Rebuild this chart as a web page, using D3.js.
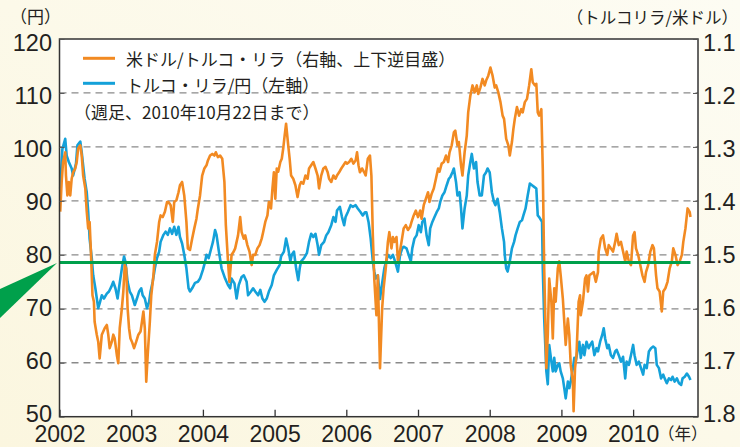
<!DOCTYPE html>
<html><head><meta charset="utf-8">
<script src="https://cdn.jsdelivr.net/npm/d3@7"></script>
<style>
html,body{margin:0;padding:0;background:#fbf8e8;}
svg{display:block;}
</style></head><body>
<svg id="chart" width="740" height="447"></svg>
<script>
// ---------- data ----------
const yearTicks = [2002, 2003, 2004, 2005, 2006, 2007, 2008, 2009, 2010];
const leftTicks = [50, 60, 70, 80, 90, 100, 110, 120];
const rightTicks = [1.1, 1.2, 1.3, 1.4, 1.5, 1.6, 1.7, 1.8];
const refLevel = 78.6; // green horizontal line (left axis, yen)

const leftUnit = "（円）";
const rightUnit = "（トルコリラ/米ドル）";
const yearUnit = "（年）";
const legendLabels = ["米ドル/トルコ・リラ（右軸、上下逆目盛）", "トルコ・リラ/円（左軸）"];
const noteLabel = "（週足、2010年10月22日まで）";

// USD/TRY (lira per dollar, right axis, inverted)
const usdTry = [[2002.01,1.420],[2002.03,1.365],[2002.05,1.328],[2002.08,1.310],[2002.09,1.353],[2002.11,1.390],[2002.13,1.365],[2002.15,1.390],[2002.17,1.359],[2002.19,1.347],[2002.22,1.340],[2002.24,1.328],[2002.26,1.303],[2002.29,1.297],[2002.31,1.316],[2002.33,1.353],[2002.36,1.377],[2002.38,1.420],[2002.40,1.451],[2002.42,1.439],[2002.44,1.500],[2002.46,1.575],[2002.48,1.587],[2002.49,1.624],[2002.52,1.648],[2002.54,1.661],[2002.56,1.692],[2002.59,1.648],[2002.61,1.642],[2002.63,1.636],[2002.66,1.630],[2002.68,1.648],[2002.70,1.673],[2002.73,1.661],[2002.75,1.648],[2002.77,1.655],[2002.80,1.686],[2002.82,1.701],[2002.84,1.636],[2002.87,1.599],[2002.89,1.568],[2002.91,1.519],[2002.93,1.525],[2002.95,1.599],[2002.97,1.636],[2002.99,1.655],[2003.01,1.661],[2003.04,1.673],[2003.07,1.661],[2003.10,1.648],[2003.13,1.642],[2003.15,1.624],[2003.17,1.605],[2003.19,1.636],[2003.21,1.735],[2003.23,1.686],[2003.26,1.624],[2003.28,1.575],[2003.31,1.538],[2003.33,1.500],[2003.36,1.476],[2003.39,1.439],[2003.41,1.427],[2003.44,1.430],[2003.47,1.420],[2003.50,1.402],[2003.52,1.402],[2003.55,1.408],[2003.58,1.439],[2003.60,1.402],[2003.63,1.399],[2003.66,1.384],[2003.68,1.371],[2003.71,1.365],[2003.74,1.390],[2003.77,1.439],[2003.79,1.488],[2003.82,1.491],[2003.85,1.470],[2003.88,1.451],[2003.91,1.433],[2003.93,1.414],[2003.96,1.390],[2003.99,1.353],[2004.02,1.340],[2004.05,1.334],[2004.07,1.325],[2004.10,1.316],[2004.13,1.313],[2004.16,1.316],[2004.18,1.310],[2004.21,1.319],[2004.24,1.316],[2004.27,1.322],[2004.30,1.365],[2004.32,1.445],[2004.35,1.512],[2004.37,1.550],[2004.40,1.500],[2004.43,1.494],[2004.45,1.488],[2004.49,1.464],[2004.52,1.430],[2004.54,1.458],[2004.57,1.470],[2004.59,1.464],[2004.62,1.482],[2004.65,1.494],[2004.68,1.519],[2004.70,1.500],[2004.73,1.500],[2004.76,1.488],[2004.79,1.482],[2004.82,1.470],[2004.84,1.458],[2004.87,1.439],[2004.90,1.427],[2004.92,1.402],[2004.95,1.414],[2004.97,1.377],[2004.99,1.347],[2005.01,1.396],[2005.03,1.340],[2005.05,1.346],[2005.08,1.328],[2005.10,1.322],[2005.12,1.303],[2005.14,1.279],[2005.16,1.257],[2005.19,1.297],[2005.21,1.322],[2005.23,1.353],[2005.26,1.359],[2005.29,1.371],[2005.32,1.393],[2005.35,1.371],[2005.37,1.365],[2005.40,1.368],[2005.43,1.353],[2005.46,1.359],[2005.48,1.340],[2005.51,1.334],[2005.54,1.328],[2005.57,1.340],[2005.60,1.353],[2005.62,1.377],[2005.65,1.353],[2005.68,1.340],[2005.71,1.337],[2005.74,1.347],[2005.76,1.359],[2005.79,1.365],[2005.82,1.353],[2005.85,1.359],[2005.87,1.353],[2005.90,1.347],[2005.93,1.340],[2005.96,1.334],[2005.99,1.328],[2006.01,1.331],[2006.04,1.328],[2006.07,1.322],[2006.10,1.331],[2006.13,1.325],[2006.15,1.310],[2006.17,1.334],[2006.19,1.347],[2006.22,1.340],[2006.25,1.347],[2006.27,1.353],[2006.30,1.322],[2006.33,1.316],[2006.35,1.353],[2006.37,1.464],[2006.39,1.544],[2006.42,1.612],[2006.44,1.538],[2006.47,1.710],[2006.50,1.599],[2006.52,1.562],[2006.55,1.525],[2006.58,1.476],[2006.60,1.458],[2006.63,1.488],[2006.65,1.467],[2006.67,1.476],[2006.70,1.467],[2006.72,1.512],[2006.74,1.500],[2006.77,1.476],[2006.80,1.451],[2006.83,1.445],[2006.86,1.454],[2006.89,1.448],[2006.91,1.439],[2006.94,1.427],[2006.97,1.418],[2007.00,1.430],[2007.03,1.418],[2007.05,1.433],[2007.08,1.408],[2007.11,1.396],[2007.14,1.384],[2007.16,1.402],[2007.19,1.387],[2007.22,1.377],[2007.25,1.359],[2007.28,1.340],[2007.30,1.346],[2007.33,1.331],[2007.36,1.328],[2007.39,1.316],[2007.42,1.328],[2007.44,1.310],[2007.47,1.297],[2007.50,1.273],[2007.52,1.270],[2007.55,1.297],[2007.57,1.291],[2007.60,1.334],[2007.62,1.353],[2007.65,1.310],[2007.68,1.279],[2007.70,1.236],[2007.73,1.205],[2007.76,1.186],[2007.79,1.199],[2007.82,1.186],[2007.84,1.202],[2007.87,1.190],[2007.90,1.174],[2007.93,1.186],[2007.95,1.177],[2007.98,1.168],[2008.01,1.153],[2008.04,1.168],[2008.07,1.190],[2008.09,1.186],[2008.12,1.199],[2008.15,1.217],[2008.18,1.242],[2008.20,1.248],[2008.23,1.285],[2008.26,1.297],[2008.28,1.316],[2008.31,1.291],[2008.33,1.267],[2008.35,1.248],[2008.38,1.226],[2008.41,1.242],[2008.44,1.230],[2008.46,1.236],[2008.49,1.217],[2008.52,1.211],[2008.55,1.186],[2008.58,1.156],[2008.60,1.180],[2008.63,1.186],[2008.65,1.183],[2008.67,1.236],[2008.69,1.242],[2008.72,1.230],[2008.74,1.340],[2008.76,1.525],[2008.79,1.710],[2008.81,1.648],[2008.83,1.544],[2008.86,1.587],[2008.88,1.655],[2008.90,1.562],[2008.92,1.587],[2008.95,1.525],[2008.97,1.512],[2008.99,1.538],[2009.02,1.581],[2009.04,1.624],[2009.06,1.667],[2009.09,1.618],[2009.11,1.648],[2009.13,1.704],[2009.16,1.735],[2009.17,1.790],[2009.19,1.710],[2009.21,1.686],[2009.24,1.587],[2009.26,1.575],[2009.27,1.612],[2009.30,1.587],[2009.33,1.544],[2009.35,1.538],[2009.37,1.568],[2009.39,1.538],[2009.42,1.535],[2009.45,1.532],[2009.48,1.550],[2009.51,1.532],[2009.52,1.494],[2009.55,1.470],[2009.58,1.464],[2009.61,1.488],[2009.64,1.500],[2009.66,1.482],[2009.69,1.488],[2009.72,1.494],[2009.75,1.476],[2009.77,1.461],[2009.80,1.482],[2009.83,1.476],[2009.86,1.494],[2009.89,1.512],[2009.91,1.494],[2009.94,1.512],[2009.97,1.519],[2010.00,1.464],[2010.02,1.458],[2010.04,1.488],[2010.07,1.500],[2010.10,1.519],[2010.13,1.538],[2010.16,1.550],[2010.18,1.532],[2010.21,1.519],[2010.24,1.494],[2010.27,1.482],[2010.29,1.488],[2010.32,1.538],[2010.34,1.562],[2010.37,1.568],[2010.40,1.605],[2010.42,1.568],[2010.45,1.562],[2010.48,1.550],[2010.51,1.525],[2010.54,1.512],[2010.56,1.488],[2010.59,1.500],[2010.62,1.519],[2010.65,1.512],[2010.68,1.500],[2010.70,1.476],[2010.73,1.451],[2010.76,1.414],[2010.79,1.421],[2010.80,1.430]];

// TRY/JPY (yen per lira, left axis)
const tryJpy = [[2002.01,92.3],[2002.04,99.6],[2002.08,101.5],[2002.10,98.4],[2002.13,97.2],[2002.17,96.0],[2002.19,94.7],[2002.23,96.9],[2002.25,100.3],[2002.29,101.0],[2002.31,99.0],[2002.35,94.1],[2002.38,91.6],[2002.40,88.0],[2002.42,83.0],[2002.45,79.4],[2002.47,76.2],[2002.50,73.8],[2002.54,70.1],[2002.56,71.0],[2002.59,72.5],[2002.62,71.9],[2002.66,72.8],[2002.69,73.2],[2002.72,74.0],[2002.75,75.0],[2002.78,73.8],[2002.81,71.9],[2002.84,74.8],[2002.87,77.5],[2002.90,79.7],[2002.92,78.7],[2002.95,75.0],[2002.98,73.2],[2003.01,72.5],[2003.05,70.7],[2003.08,71.9],[2003.11,73.2],[2003.14,73.8],[2003.16,72.5],[2003.19,71.9],[2003.22,70.1],[2003.25,71.3],[2003.27,73.2],[2003.30,75.0],[2003.33,77.5],[2003.36,79.4],[2003.39,80.6],[2003.41,82.4],[2003.45,83.7],[2003.48,84.3],[2003.51,83.7],[2003.54,84.9],[2003.57,83.9],[2003.60,85.2],[2003.63,83.7],[2003.66,85.2],[2003.68,83.3],[2003.71,82.1],[2003.74,80.0],[2003.77,77.5],[2003.80,73.8],[2003.82,73.2],[2003.85,73.8],[2003.89,74.8],[2003.93,75.0],[2003.96,75.6],[2004.00,77.2],[2004.03,78.7],[2004.05,80.0],[2004.08,79.4],[2004.11,80.9],[2004.14,82.4],[2004.17,84.6],[2004.19,83.7],[2004.22,80.9],[2004.26,77.5],[2004.31,75.6],[2004.35,74.4],[2004.38,73.8],[2004.40,75.6],[2004.44,74.7],[2004.47,71.9],[2004.50,74.4],[2004.54,75.9],[2004.57,76.2],[2004.61,75.0],[2004.63,72.5],[2004.67,73.2],[2004.70,73.8],[2004.73,73.2],[2004.77,72.5],[2004.80,73.5],[2004.83,71.9],[2004.86,71.3],[2004.89,71.9],[2004.92,73.2],[2004.96,74.4],[2004.99,76.2],[2005.03,77.2],[2005.07,78.1],[2005.09,79.7],[2005.13,80.6],[2005.16,83.0],[2005.19,81.2],[2005.22,78.8],[2005.24,80.0],[2005.27,80.6],[2005.30,77.5],[2005.33,75.3],[2005.35,77.5],[2005.37,78.8],[2005.41,79.4],[2005.45,80.3],[2005.48,82.4],[2005.51,83.9],[2005.54,83.3],[2005.57,83.9],[2005.60,81.8],[2005.62,80.0],[2005.65,81.8],[2005.69,82.4],[2005.72,83.6],[2005.75,84.2],[2005.79,85.5],[2005.82,87.0],[2005.85,86.1],[2005.87,88.2],[2005.91,88.9],[2005.94,87.0],[2005.97,85.5],[2005.99,87.0],[2006.02,87.9],[2006.06,89.2],[2006.09,88.9],[2006.13,89.2],[2006.16,88.6],[2006.20,87.9],[2006.23,87.3],[2006.26,87.9],[2006.28,87.9],[2006.31,86.1],[2006.34,83.0],[2006.37,78.8],[2006.39,76.9],[2006.41,75.6],[2006.44,76.2],[2006.47,71.8],[2006.49,73.8],[2006.53,77.5],[2006.58,80.0],[2006.62,79.4],[2006.65,80.0],[2006.68,78.8],[2006.72,76.9],[2006.75,80.0],[2006.78,81.2],[2006.80,81.5],[2006.84,81.2],[2006.87,80.0],[2006.90,78.8],[2006.92,81.2],[2006.95,83.0],[2006.98,83.6],[2007.01,85.5],[2007.04,84.2],[2007.06,86.1],[2007.09,86.7],[2007.12,83.6],[2007.15,81.8],[2007.17,84.9],[2007.20,86.1],[2007.23,87.0],[2007.26,87.9],[2007.29,88.6],[2007.31,89.8],[2007.34,91.0],[2007.37,91.6],[2007.40,92.9],[2007.43,94.1],[2007.45,94.4],[2007.48,95.3],[2007.50,96.0],[2007.53,93.5],[2007.55,91.0],[2007.58,91.6],[2007.60,88.6],[2007.62,84.9],[2007.65,88.6],[2007.68,91.0],[2007.70,94.7],[2007.73,97.2],[2007.75,98.7],[2007.78,96.0],[2007.81,97.2],[2007.83,93.5],[2007.86,91.0],[2007.89,91.0],[2007.92,94.7],[2007.95,95.3],[2007.97,96.0],[2008.00,95.3],[2008.03,91.6],[2008.06,89.8],[2008.08,89.2],[2008.11,90.4],[2008.14,87.9],[2008.17,84.9],[2008.20,82.4],[2008.21,80.0],[2008.23,77.5],[2008.25,76.9],[2008.28,78.8],[2008.31,81.2],[2008.34,82.4],[2008.36,83.6],[2008.39,84.9],[2008.42,86.1],[2008.45,86.4],[2008.47,87.3],[2008.50,88.6],[2008.53,91.0],[2008.56,93.2],[2008.59,92.9],[2008.62,92.6],[2008.65,92.3],[2008.67,87.3],[2008.69,87.0],[2008.73,86.1],[2008.74,77.5],[2008.76,68.2],[2008.79,58.4],[2008.81,56.0],[2008.83,63.3],[2008.86,60.2],[2008.88,58.4],[2008.90,60.9],[2008.92,58.4],[2008.95,59.6],[2008.97,59.9],[2008.99,58.4],[2009.02,57.1],[2009.04,55.3],[2009.06,53.4],[2009.09,56.5],[2009.11,55.3],[2009.13,56.5],[2009.16,59.0],[2009.18,60.9],[2009.20,60.2],[2009.23,62.7],[2009.25,63.9],[2009.27,60.9],[2009.30,63.3],[2009.32,61.4],[2009.35,63.9],[2009.38,62.7],[2009.40,63.3],[2009.43,63.9],[2009.46,61.4],[2009.49,62.7],[2009.51,62.1],[2009.54,63.9],[2009.57,65.2],[2009.59,66.4],[2009.61,64.5],[2009.64,62.7],[2009.66,63.3],[2009.69,61.4],[2009.72,60.9],[2009.75,62.1],[2009.77,62.4],[2009.80,61.4],[2009.83,60.2],[2009.86,61.1],[2009.89,57.1],[2009.91,60.2],[2009.94,59.6],[2009.97,61.4],[2010.00,63.3],[2010.02,61.4],[2010.05,59.6],[2010.08,60.2],[2010.11,59.0],[2010.14,57.8],[2010.16,59.6],[2010.19,59.0],[2010.22,62.1],[2010.25,62.7],[2010.28,63.0],[2010.31,62.7],[2010.33,59.6],[2010.36,59.0],[2010.39,57.1],[2010.42,57.8],[2010.44,57.1],[2010.47,56.2],[2010.50,57.1],[2010.53,56.8],[2010.55,57.4],[2010.58,56.5],[2010.61,57.1],[2010.64,56.2],[2010.67,55.9],[2010.69,57.1],[2010.72,57.4],[2010.75,58.0],[2010.78,57.4],[2010.80,56.8]];

// ---------- drawing ----------
const W = 740, H = 447;
const P = {left: 59.5, right: 698, top: 39, bottom: 416.7};
const ORANGE = "#f28a22", BLUE = "#14a1d9", GREEN = "#00a04b", INK = "#231f20";
const NUM_FONT = "'Liberation Sans', Arial, Helvetica, sans-serif";
const JP_FONT = "'Noto Sans CJK JP', 'Noto Sans', sans-serif";

const svg = d3.select("#chart");

const defs = svg.append("defs");
const grad = defs.append("linearGradient").attr("id", "bg").attr("x1", "0").attr("y1", "1").attr("x2", "1").attr("y2", "0");
grad.append("stop").attr("offset", "0").attr("stop-color", "#fbf6df");
grad.append("stop").attr("offset", "1").attr("stop-color", "#fdfcf3");
svg.append("rect").attr("width", W).attr("height", H).attr("fill", "url(#bg)");

const x = d3.scaleLinear().domain([2002, 2010.905]).range([P.left, P.right]);
const yL = d3.scaleLinear().domain([50, 120]).range([P.bottom, P.top]);
const yR = d3.scaleLinear().domain([1.1, 1.8]).range([P.top, P.bottom]);

// plot area
svg.append("rect").attr("x", P.left).attr("y", P.top)
  .attr("width", P.right - P.left).attr("height", P.bottom - P.top).attr("fill", "#ffffff");

// dashed grid
svg.append("g").selectAll("line").data(leftTicks.filter(d => d > 50 && d < 120)).join("line")
  .attr("x1", P.left).attr("x2", P.right)
  .attr("y1", d => yL(d)).attr("y2", d => yL(d))
  .attr("stroke", "#8a8a8a").attr("stroke-width", 1.3).attr("stroke-dasharray", "7,5");

// series
const lineBlue = d3.line().x(d => x(d[0])).y(d => yL(d[1]));
const lineOrange = d3.line().x(d => x(d[0])).y(d => yR(d[1]));
svg.append("path").datum(tryJpy).attr("d", lineBlue).attr("fill", "none")
  .attr("stroke", BLUE).attr("stroke-width", 2.6).attr("stroke-linejoin", "round");
svg.append("path").datum(usdTry).attr("d", lineOrange).attr("fill", "none")
  .attr("stroke", ORANGE).attr("stroke-width", 2.6).attr("stroke-linejoin", "round");

// reference level
const lastDate = tryJpy[tryJpy.length - 1][0];
svg.append("line").attr("x1", x(2002)).attr("x2", x(lastDate))
  .attr("y1", yL(refLevel)).attr("y2", yL(refLevel))
  .attr("stroke", GREEN).attr("stroke-width", 3);

// frame
svg.append("rect").attr("x", P.left).attr("y", P.top)
  .attr("width", P.right - P.left).attr("height", P.bottom - P.top)
  .attr("fill", "none").attr("stroke", "#333").attr("stroke-width", 1.5);

// label vertical nudge (labels slightly compressed toward the centre)
const nudge = py => 3 - 7 * (py - P.top) / (P.bottom - P.top);

// left axis
const gL = svg.append("g").attr("transform", `translate(${P.left},0)`)
  .call(d3.axisLeft(yL).tickValues(leftTicks).tickSize(-5).tickPadding(7.5).tickFormat(d3.format("d")));
gL.select(".domain").remove();
gL.selectAll(".tick line").attr("stroke", "#555");
gL.selectAll(".tick text").attr("dy", null)
  .attr("y", d => nudge(yL(d)) + 8.4)
  .attr("font-family", NUM_FONT).attr("font-size", 23.5).attr("fill", INK);

// right axis
const gR = svg.append("g").attr("transform", `translate(${P.right},0)`)
  .call(d3.axisRight(yR).tickValues(rightTicks).tickSize(-5).tickPadding(5).tickFormat(d3.format(".1f")));
gR.select(".domain").remove();
gR.selectAll(".tick line").attr("stroke", "#555");
gR.selectAll(".tick text").attr("dy", null)
  .attr("y", d => nudge(yR(d)) + 8.4)
  .attr("font-family", NUM_FONT).attr("font-size", 23.5).attr("fill", INK);

// bottom axis
const gB = svg.append("g").attr("transform", `translate(0,${P.bottom})`)
  .call(d3.axisBottom(x).tickValues(yearTicks).tickSize(-7).tickFormat(d3.format("d")));
gB.select(".domain").remove();
gB.selectAll(".tick line").attr("stroke", "#333").attr("stroke-width", 1.3);
gB.selectAll(".tick text").attr("dy", null).attr("y", 25.3)
  .attr("font-family", NUM_FONT).attr("font-size", 23).attr("fill", INK);

// unit labels
svg.append("text").attr("x", 10).attr("y", 23).text(leftUnit)
  .attr("font-family", JP_FONT).attr("font-size", 17).attr("fill", INK);
svg.append("text").attr("x", 738).attr("y", 24).attr("text-anchor", "end").text(rightUnit)
  .attr("font-family", JP_FONT).attr("font-size", 16.5).attr("fill", INK);
svg.append("text").attr("x", 658).attr("y", 440).text(yearUnit)
  .attr("font-family", JP_FONT).attr("font-size", 16.5).attr("fill", INK);

// legend
const legend = [{c: ORANGE, y: 58.3, ty: 65.5, t: legendLabels[0]}, {c: BLUE, y: 83.3, ty: 92, t: legendLabels[1]}];
const lg = svg.append("g");
lg.selectAll("line").data(legend).join("line")
  .attr("x1", 83).attr("x2", 115).attr("y1", d => d.y).attr("y2", d => d.y)
  .attr("stroke", d => d.c).attr("stroke-width", 3);
lg.selectAll("text").data(legend).join("text")
  .attr("x", 126).attr("y", d => d.ty).text(d => d.t)
  .attr("font-family", JP_FONT).attr("font-size", 17).attr("fill", INK);
svg.append("text").attr("x", 74).attr("y", 119).text(noteLabel)
  .attr("font-family", JP_FONT).attr("font-size", 17).attr("fill", INK);

// green pointer
svg.append("polygon").attr("points", [[57, 263], [0, 289], [0, 318]].map(p => p.join(",")).join(" "))
  .attr("fill", GREEN);
</script>
</body></html>
